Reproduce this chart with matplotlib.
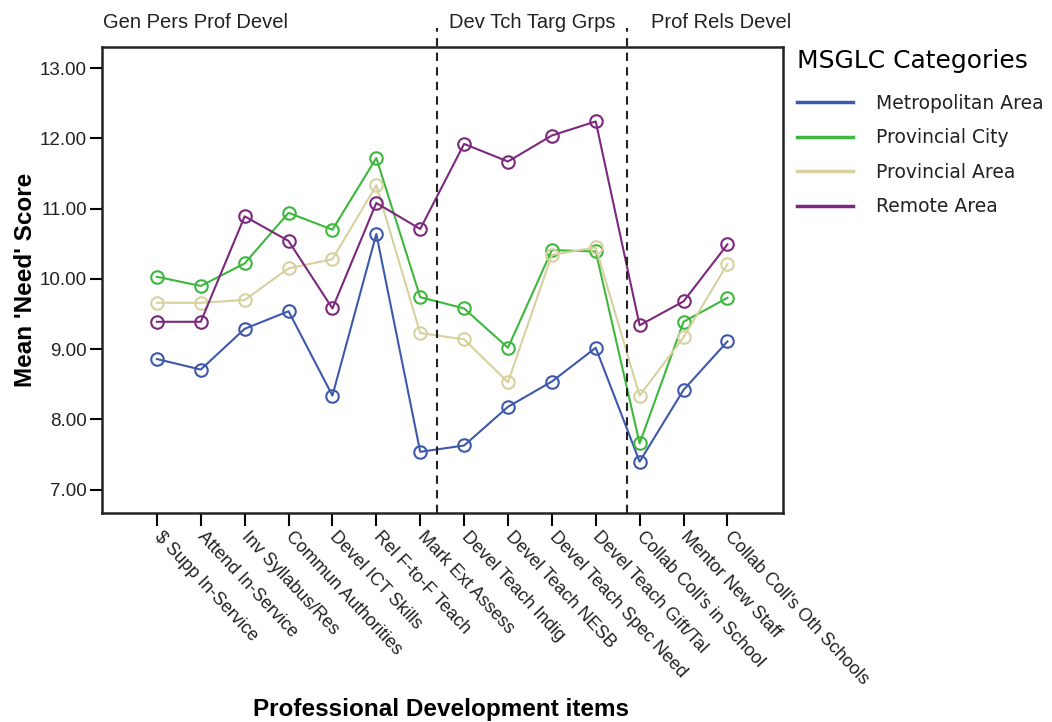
import matplotlib
matplotlib.use("Agg")
import matplotlib.pyplot as plt
from matplotlib.lines import Line2D

# data
items = ["$ Supp In-Service", "Attend In-Service", "Inv Syllabus/Res",
         "Commun Authorities", "Devel ICT Skills", "Rel F-to-F Teach",
         "Mark Ext Assess", "Devel Teach Indig", "Devel Teach NESB",
         "Devel Teach Spec Need", "Devel Teach Gift/Tal", "Collab Coll's in School",
         "Mentor New Staff", "Collab Coll's Oth Schools"]

metropolitan = [8.86, 8.71, 9.29, 9.54, 8.34, 10.64, 7.54,
                7.63, 8.18, 8.54, 9.02, 7.40, 8.42, 9.11]
provincial_city = [10.03, 9.90, 10.22, 10.94, 10.70, 11.72, 9.74,
                   9.58, 9.02, 10.41, 10.39, 7.66, 9.39, 9.73]
provincial_area = [9.66, 9.66, 9.70, 10.15, 10.28, 11.33, 9.23,
                   9.14, 8.53, 10.34, 10.45, 8.34, 9.17, 10.21]
remote = [9.39, 9.39, 10.89, 10.54, 9.58, 11.08, 10.71,
          11.92, 11.67, 12.04, 12.24, 9.34, 9.68, 10.49]

series_names = ["Metropolitan Area", "Provincial City", "Provincial Area", "Remote Area"]
colors = ["#3E58AC", "#3DB83D", "#D6D19E", "#7C287D"]

sections = ["Gen Pers Prof Devel", "Dev Tch Targ Grps", "Prof Rels Devel"]
section_x = [-1.22, 6.66, 11.26]
dividers = [6.38, 10.72]
yticks = [7, 8, 9, 10, 11, 12, 13]

plt.rcParams['font.family'] = ['Liberation Sans', 'DejaVu Sans']

fig = plt.figure(figsize=(10.52, 7.22), dpi=100)
ax = fig.add_axes([0.097, 0.2895, 0.647, 0.6455])

x = list(range(len(items)))
for vals, c in zip([metropolitan, provincial_city, provincial_area, remote], colors):
    ax.plot(x, vals, color=c, lw=1.5, marker='o', ms=9, mfc='none',
            mec=c, mew=1.5)

# dashed dividers between item groups, poking above the frame
for d in dividers:
    ax.axvline(d, ymin=0, ymax=1.041, color='#222222', lw=1.5,
               ls=(0, (4, 3)), clip_on=False)

ax.set_xlim(-1.25, 14.26)
ax.set_ylim(6.67, 13.30)
ax.set_yticks(yticks)
ax.set_yticklabels([f"{v:.2f}" for v in yticks], fontsize=13.5, color='#222222')
ax.set_xticks(x)
ax.set_xticklabels(items, rotation=-47, ha='left', va='center',
                   rotation_mode='anchor', fontsize=13, color='#222222')
ax.tick_params(axis='both', length=9, width=1.5, direction='out')
ax.tick_params(axis='x', pad=6)
ax.tick_params(axis='y', pad=2)
for s in ax.spines.values():
    s.set_linewidth(1.8)
    s.set_color('#222222')

ax.set_ylabel("Mean 'Need' Score", fontsize=17.5, fontweight='bold', labelpad=2)
fig.text(0.419, 0.018, "Professional Development items", fontsize=17.5,
         fontweight='bold', ha='center', va='center')

for lbl, sx in zip(sections, section_x):
    ax.text(sx, 1.053, lbl, transform=ax.get_xaxis_transform(), fontsize=14.5,
            ha='left', va='center', color='#222222')

handles = [Line2D([0], [0], color=c, lw=2.5) for c in colors]
leg = fig.legend(handles, series_names, loc='upper left',
                 bbox_to_anchor=(0.745, 0.95), frameon=False,
                 title="MSGLC Categories", prop={'family': 'DejaVu Sans', 'size': 13.5},
                 handlelength=3.0, handletextpad=1.2, labelspacing=0.82,
                 borderaxespad=0.3)
leg.get_title().set_fontsize(18)
leg.get_title().set_family('DejaVu Sans')
leg._legend_box.align = 'left'
leg._legend_box.sep = 15
for t in leg.get_texts():
    t.set_color('#222222')

plt.savefig('out.png', dpi=100)
